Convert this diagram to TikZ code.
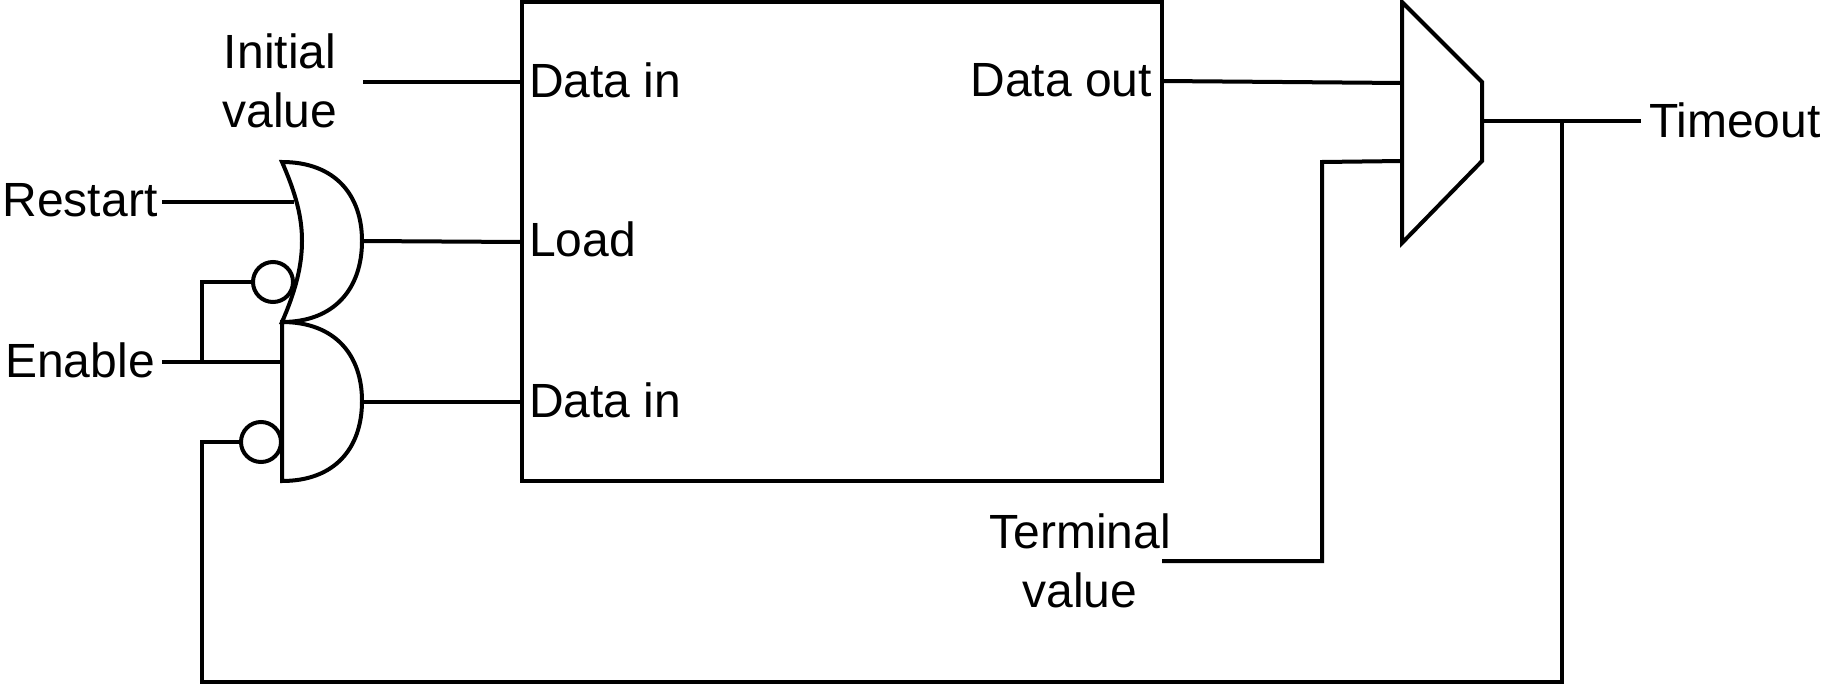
\documentclass[tikz,border=0pt]{standalone}
\usepackage{fontspec}
\setmainfont{Liberation Sans}
\usepackage{xcolor}
\usetikzlibrary{positioning, calc}

\begin{document}
\begin{tikzpicture}[x=0.75pt, y=-0.75pt, line width=3pt, line join=miter,
  every node/.style={font=\fontsize{36}{44}\selectfont, inner sep=0pt, outer sep=0pt},
  sigtext/.style={align=center},
  porttext/.style={anchor=west},
  bubble/.style={circle, draw, fill=white, minimum size=30pt}]
\useasboundingbox (0,0) rectangle (1840,688);

% counter block
\node[draw, anchor=north west, minimum width=480.5pt, minimum height=359.25pt] (counter) at (521.5,2) {};
\node[porttext] (dinA) at (529,80) {Data in};
\node[porttext] (load) at (529,239) {Load};
\node[porttext] (dinB) at (529,400) {Data in};
\node[anchor=east] (dout) at (1152,80) {Data out};

% outer labels
\node[sigtext] (initial) at (280,81) {Initial\\value};
\node[sigtext] (restart) at (80,200) {Restart};
\node[sigtext] (enable) at (80,360) {Enable};
\node[sigtext] (terminal) at (1080,561) {Terminal\\value};
\node[porttext] (timeout) at (1649,120) {Timeout};

% or gate
\draw (282,162) .. controls (335,162) and (362,195) .. (362,241)
  .. controls (362,288) and (335,322) .. (282,322)
  .. controls (296,290) and (302,265) .. (302,241)
  .. controls (302,217) and (296,194) .. cycle;
% and gate
\draw (282,322) .. controls (335,322) and (362,355) .. (362,401)
  .. controls (362,448) and (335,481) .. (282,481) -- cycle;
% mux
\draw (1402,2) -- (1482,82) -- (1482,161) -- (1402,243) -- cycle;

% bubbles
\node[bubble] (invA) at (273,282) {};
\node[bubble] (invB) at (261,442) {};

% free ends of the wires
\coordinate (initialEnd) at (363,82);
\coordinate (restartEnd) at (162,202);
\coordinate (orRestart) at (294,202);
\coordinate (orOut) at (362,241);
\coordinate (andOut) at (362,402);
\coordinate (enableEnd) at (162,362);
\coordinate (enableTap) at (202,362);
\coordinate (andEnable) at (282,362);
\coordinate (muxA) at (1402,83);
\coordinate (muxB) at (1402,161);
\coordinate (muxOut) at (1482,121);
\coordinate (timeoutEnd) at (1641,121);
\coordinate (feedTap) at (1562,121);
\coordinate (terminalEnd) at (1162,561);

% wires
\draw (initialEnd) -- (counter.west |- initialEnd);
\draw (restartEnd) -- (orRestart);
\draw (orOut) -- (counter.west |- 0,242);
\draw (andOut) -- (counter.west |- andOut);
\draw (enableEnd) -- (andEnable);
\draw (enableTap) |- (invA.west);
\draw (counter.east |- 0,81) -- (muxA);
\draw (terminalEnd) -| (1322,162) -- (muxB);
\draw (muxOut) -- (timeoutEnd);
\draw (feedTap) |- (202,682) |- (invB.west);
\end{tikzpicture}
\end{document}
